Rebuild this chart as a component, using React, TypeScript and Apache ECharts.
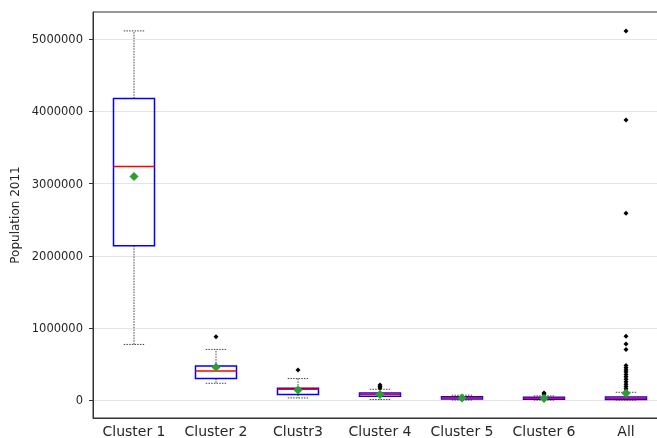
import React, { useEffect, useRef } from "react";
import * as echarts from "echarts";

const categories = ["Cluster 1", "Cluster 2", "Clustr3", "Cluster 4", "Cluster 5", "Cluster 6", "All"];
const whiskerLow = [773000, 235000, 32000, 10000, 3000, 2000, 2000];
const q1 = [2140000, 300000, 79000, 55000, 18000, 12000, 10000];
const medians = [3236000, 405000, 152000, 83000, 35000, 28000, 28000];
const q3 = [4180000, 474000, 166000, 100000, 50000, 40000, 46000];
const whiskerHigh = [5115000, 704000, 300000, 152000, 70000, 60000, 110000];
const means = [3098000, 456000, 142000, 80000, 30000, 25000, 97000];
const outliers: number[][] = [
  [],
  [880000],
  [420000],
  [170000, 190000, 212000],
  [],
  [85000, 100000],
  [5115000, 3880000, 2590000, 885000, 780000, 704000, 480000, 450000, 420000, 390000, 355000, 325000, 290000, 255000, 220000, 190000, 160000, 125000],
];
const yTicks = [0, 1000000, 2000000, 3000000, 4000000, 5000000];
const yMin = -246000;
const yMax = 5377000;

export default function App() {
  const ref = useRef<HTMLDivElement>(null);
  useEffect(() => {
    if (!ref.current) return;
    const chart = echarts.init(ref.current, undefined, { renderer: "svg" });
    const boxData = categories.map((c, i) => [i, whiskerLow[i], q1[i], medians[i], q3[i], whiskerHigh[i]]);
    const meanData = categories.map((c, i) => [c, means[i]]);
    const outlierData: any[] = [];
    outliers.forEach((arr, i) => arr.forEach((v) => outlierData.push([categories[i], v])));
    const dotted = { stroke: "#444", lineWidth: 1, lineDash: [1.5, 1.2], fill: "none" };
    chart.setOption({
      animation: false,
      textStyle: { fontFamily: "DejaVu Sans" },
      grid: {
        left: 93,
        top: 12,
        width: 574,
        height: 406,
        show: true,
        borderColor: "#333",
        borderWidth: 1,
        backgroundColor: "transparent",
        containLabel: false,
        outerBoundsMode: "none",
      },
      xAxis: {
        type: "category",
        data: categories,
        boundaryGap: true,
        axisLine: { onZero: false, lineStyle: { color: "#333", width: 1 } },
        axisTick: { alignWithLabel: true, length: 4, lineStyle: { color: "#333" } },
        axisLabel: { interval: 0, fontSize: 14, color: "#262626", margin: 6, fontFamily: "DejaVu Sans" },
        splitLine: { show: false },
      },
      yAxis: {
        type: "value",
        min: yMin,
        max: yMax,
        name: "Population 2011",
        nameLocation: "middle",
        nameRotate: 90,
        nameGap: 65,
        nameTextStyle: { fontSize: 12, color: "#262626", fontFamily: "DejaVu Sans" },
        axisLine: { show: true, lineStyle: { color: "#333", width: 1 } },
        axisTick: { show: true, length: 4, lineStyle: { color: "#333" }, customValues: yTicks },
        axisLabel: {
          fontSize: 11.5,
          color: "#262626",
          margin: 10,
          customValues: yTicks,
          fontFamily: "DejaVu Sans",
          formatter: (v: number) => String(Math.round(v)),
        },
        splitLine: { show: true, lineStyle: { color: "#e4e4e4", width: 1 } },
      },
      series: [
        {
          type: "custom",
          data: boxData,
          encode: { x: 0, y: [1, 2, 3, 4, 5] },
          z: 2,
          renderItem: (params: any, api: any) => {
            const x = api.value(0);
            const low = api.coord([x, api.value(1)]);
            const b1 = api.coord([x, api.value(2)]);
            const m = api.coord([x, api.value(3)]);
            const b3 = api.coord([x, api.value(4)]);
            const high = api.coord([x, api.value(5)]);
            const band = api.size([1, 0])[0];
            const hw = band * 0.25;
            const cw = band * 0.125;
            const cx = low[0];
            return {
              type: "group",
              children: [
                { type: "line", shape: { x1: cx, y1: b3[1], x2: cx, y2: high[1] }, style: dotted },
                { type: "line", shape: { x1: cx, y1: b1[1], x2: cx, y2: low[1] }, style: dotted },
                { type: "line", shape: { x1: cx - cw, y1: high[1], x2: cx + cw, y2: high[1] }, style: dotted },
                { type: "line", shape: { x1: cx - cw, y1: low[1], x2: cx + cw, y2: low[1] }, style: dotted },
                {
                  type: "rect",
                  shape: { x: cx - hw, y: b3[1], width: 2 * hw, height: b1[1] - b3[1] },
                  style: { fill: "none", stroke: "#0000ff", lineWidth: 1.5 },
                },
                {
                  type: "line",
                  shape: { x1: cx - hw, y1: m[1], x2: cx + hw, y2: m[1] },
                  style: { stroke: "#ff0000", lineWidth: 1.5 },
                },
              ],
            };
          },
        },
        {
          type: "scatter",
          data: outlierData,
          symbol: "diamond",
          symbolSize: 5,
          itemStyle: { color: "#000", opacity: 1 },
          z: 3,
        },
        {
          type: "scatter",
          data: meanData,
          symbol: "diamond",
          symbolSize: 9,
          itemStyle: { color: "#2ca02c", opacity: 1 },
          z: 4,
        },
      ],
    });
    return () => chart.dispose();
  }, []);
  return <div ref={ref} style={{ position: "fixed", left: 0, top: 0, width: 657, height: 438 }} />;
}
